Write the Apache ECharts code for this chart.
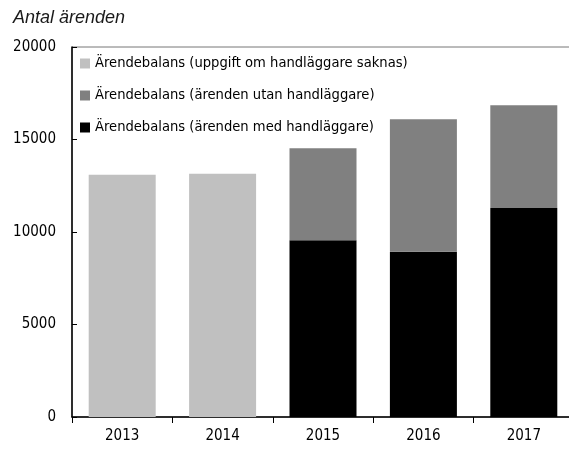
<!DOCTYPE html>
<html>
<head>
<meta charset="utf-8">
<script src="https://cdn.jsdelivr.net/npm/echarts@6/dist/echarts.min.js"></script>
<style>
    html, body { margin: 0; padding: 0; background: #fff; }
    #chart { width: 569px; height: 452px; }
</style>
</head>
<body>
<div id="chart"></div>
<script>
    // data
    var years = ['2013', '2014', '2015', '2016', '2017'];
    var saknas = [13100, 13150, null, null, null];      // uppgift om handläggare saknas
    var medHandl = [null, null, 9550, 8930, 11300];     // ärenden med handläggare
    var utanHandl = [null, null, 4980, 7170, 5550];     // ärenden utan handläggare
    var yTicks = [0, 5000, 10000, 15000, 20000];

    var names = [
        'Ärendebalans (uppgift om handläggare saknas)',
        'Ärendebalans (ärenden utan handläggare)',
        'Ärendebalans (ärenden med handläggare)'
    ];
    var font = "'DejaVu Sans Condensed', sans-serif";

    var chart = echarts.init(document.getElementById('chart'));
    chart.setOption({
        animation: false,
        title: {
            text: 'Antal ärenden',
            left: 8, top: 4,
            textStyle: { fontFamily: 'Liberation Sans', fontStyle: 'italic', fontWeight: 'normal', fontSize: 18, color: '#1a1a1a' }
        },
        legend: {
            orient: 'vertical',
            left: 75, top: 51,
            icon: 'rect',
            itemWidth: 10, itemHeight: 10,
            itemGap: 17,
            selectedMode: false,
            data: names,
            textStyle: { fontFamily: font, fontSize: 14.6, color: '#000' }
        },
        grid: {
            left: 72, width: 502, top: 47, bottom: 35,
            outerBoundsMode: 'none',
            show: true, borderColor: '#777', borderWidth: 1
        },
        xAxis: {
            type: 'category',
            data: years,
            axisLine: { lineStyle: { color: '#000', width: 1.5 } },
            axisTick: { show: true, length: 6, lineStyle: { color: '#000' } },
            axisLabel: { margin: 12, fontFamily: font, fontSize: 15, color: '#000' }
        },
        yAxis: {
            type: 'value',
            min: 0, max: 20000, interval: 5000,
            splitLine: { show: false },
            axisLine: { show: true, lineStyle: { color: '#000', width: 1.5 } },
            axisTick: { show: true, inside: true, length: 5, lineStyle: { color: '#000' } },
            axisLabel: {
                margin: 16, fontFamily: font, fontSize: 15, color: '#000',
                formatter: function (v) { return yTicks.indexOf(v) >= 0 ? String(v) : ''; }
            }
        },
        series: [{
            name: names[0], type: 'bar', stack: 'a', barWidth: 67,
            data: saknas, itemStyle: { color: '#c0c0c0' }
        }, {
            name: names[2], type: 'bar', stack: 'a', barWidth: 67,
            data: medHandl, itemStyle: { color: '#000000' }
        }, {
            name: names[1], type: 'bar', stack: 'a', barWidth: 67,
            data: utanHandl, itemStyle: { color: '#808080' }
        }]
    });
</script>
</body>
</html>
